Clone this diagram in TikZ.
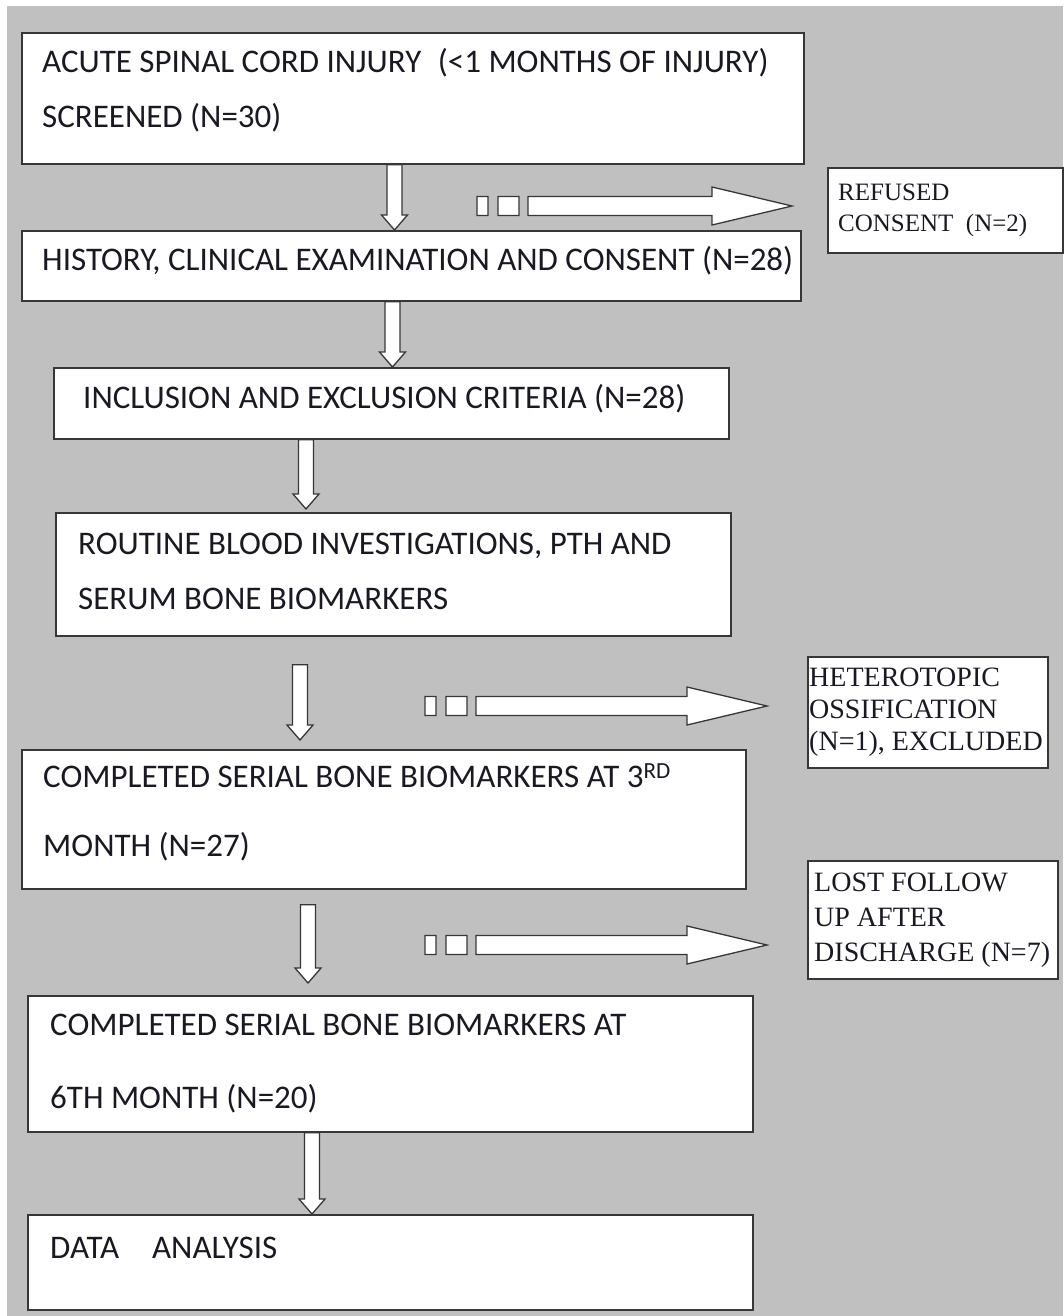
\documentclass[tikz,border=0pt]{standalone}
\usepackage{fontspec}
\setmainfont{Carlito}
\newfontfamily\sidefont{Liberation Serif}
\usetikzlibrary{calc}

\definecolor{panelgray}{RGB}{192,192,192}
\definecolor{edgegray}{RGB}{55,55,55}
\definecolor{inkdark}{RGB}{25,25,35}

\tikzset{
  stage/.style={draw=edgegray, line width=1.8pt, fill=white, anchor=north west, inner sep=0pt},
  sidebox/.style={draw=edgegray, line width=1.6pt, fill=white, anchor=north west, inner sep=0pt},
  caption/.style={anchor=west, xshift=#1, inner sep=0pt, align=left, text=inkdark,
    font=\fontsize{33}{55}\selectfont},
  sidecap/.style={anchor=west, xshift=#1, inner sep=0pt, align=left, text=inkdark,
    font=\sidefont\fontsize{28}{32}\selectfont},
  blockarrow/.style={draw=edgegray, line width=1.3pt, fill=white, line join=miter}
}

% hollow arrow pointing down: x, from, to, gap at top, gap at tip
\newcommand{\downblock}[5]{%
  \draw[blockarrow] let \p1=(#2.south), \p2=(#3.north) in
    (#1pt-7.5pt,\y1-#4pt) -- (#1pt+7.5pt,\y1-#4pt) -- (#1pt+7.5pt,\y2+#5pt+15pt)
    -- (#1pt+13pt,\y2+#5pt+15pt) -- (#1pt,\y2+#5pt) -- (#1pt-13pt,\y2+#5pt+15pt)
    -- (#1pt-7.5pt,\y2+#5pt+15pt) -- cycle;}

% two small boxes and a hollow arrow to the right: start, target, gap
\newcommand{\sideblock}[3]{%
  \draw[blockarrow] let \p1=(#1), \p2=(#2.west) in
    (\x1,\y1-9.5pt) rectangle (\x1+11pt,\y1+9.5pt)
    (\x1+21pt,\y1-9.5pt) rectangle (\x1+42pt,\y1+9.5pt)
    (\x1+51pt,\y1-9.5pt) -- (\x2-#3pt-80pt,\y1-9.5pt) -- (\x2-#3pt-80pt,\y1-19pt)
    -- (\x2-#3pt,\y1) -- (\x2-#3pt-80pt,\y1+19pt) -- (\x2-#3pt-80pt,\y1+9.5pt)
    -- (\x1+51pt,\y1+9.5pt) -- cycle;}

\begin{document}
\begin{tikzpicture}[x=1pt, y=-1pt]
\useasboundingbox (0,0) rectangle (1063,1316);
\fill[panelgray] (7,6) rectangle (1063,1316);

% main column
\node[stage, minimum width=782pt, minimum height=131pt,
  label={[caption=21pt, yshift=8pt]west:{ACUTE SPINAL CORD INJURY\hspace{0.5em}(<1 MONTHS OF INJURY)\\SCREENED (N=30)}}]
  (screened) at (21,32) {};
\node[stage, minimum width=779pt, minimum height=70pt,
  label={[caption=21pt, yshift=5pt]west:{HISTORY, CLINICAL EXAMINATION AND CONSENT (N=28)}}]
  (history) at (21,230) {};
\node[stage, minimum width=675pt, minimum height=71pt,
  label={[caption=30pt, yshift=5pt]west:{INCLUSION AND EXCLUSION CRITERIA (N=28)}}]
  (criteria) at (53,367) {};
\node[stage, minimum width=675pt, minimum height=123pt,
  label={[caption=23pt, yshift=3pt]west:{ROUTINE BLOOD INVESTIGATIONS, PTH AND\\SERUM BONE BIOMARKERS}}]
  (blood) at (55,512) {};
\node[stage, minimum width=724pt, minimum height=139pt,
  label={[caption=22pt, yshift=7pt, font=\fontsize{33}{69}\selectfont]west:{COMPLETED SERIAL BONE BIOMARKERS AT 3\textsuperscript{RD}\\MONTH (N=27)}}]
  (month3) at (21,749) {};
\node[stage, minimum width=725pt, minimum height=136pt,
  label={[caption=23pt, font=\fontsize{33}{73}\selectfont]west:{COMPLETED SERIAL BONE BIOMARKERS AT\\6TH MONTH (N=20)}}]
  (month6) at (27,995) {};
\node[stage, minimum width=725pt, minimum height=95pt,
  label={[caption=23pt, yshift=15pt]west:{DATA\hspace{1em}ANALYSIS}}]
  (analysis) at (27,1214) {};

% exclusions
\node[sidebox, minimum width=235pt, minimum height=85pt,
  label={[sidecap=11pt, font=\sidefont\fontsize{25}{31}\selectfont]west:{REFUSED\\CONSENT\ \ (N=2)}}]
  (refused) at (827,167) {};
\node[sidebox, minimum width=240pt, minimum height=111pt,
  label={[sidecap=2pt]west:{HETEROTOPIC\\OSSIFICATION\\(N=1), EXCLUDED}}]
  (hetero) at (807,656) {};
\node[sidebox, minimum width=250pt, minimum height=118pt,
  label={[sidecap=7pt, font=\sidefont\fontsize{28}{35}\selectfont]west:{LOST FOLLOW\\UP AFTER\\DISCHARGE (N=7)}}]
  (lost) at (807,860) {};

% arrows
\downblock{394.5}{screened}{history}{0}{0}
\downblock{392.5}{history}{criteria}{0}{0}
\downblock{306}{criteria}{blood}{0}{3}
\downblock{300}{blood}{month3}{28}{9}
\downblock{308}{month3}{month6}{15}{12}
\downblock{312}{month6}{analysis}{0}{0}

\coordinate (exit1) at (477,206);
\coordinate (exit2) at (425,706);
\coordinate (exit3) at (425,945);
\sideblock{exit1}{refused}{35}
\sideblock{exit2}{hetero}{40}
\sideblock{exit3}{lost}{40}
\end{tikzpicture}
\end{document}
